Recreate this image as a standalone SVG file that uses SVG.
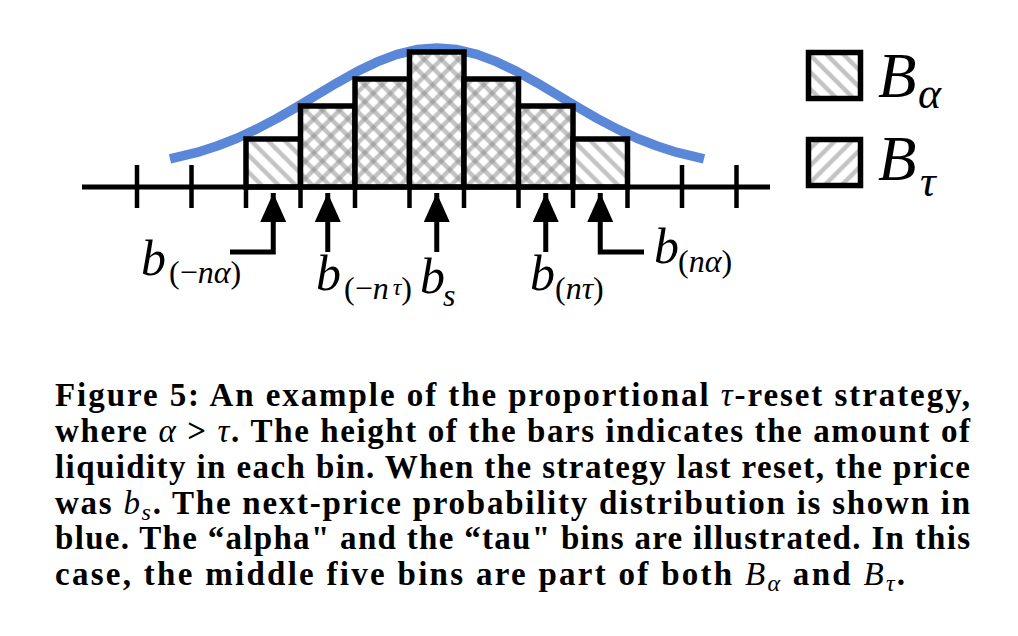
<svg xmlns="http://www.w3.org/2000/svg" width="1018" height="636" viewBox="0 0 1018 636">
  <style>
    .bar { stroke: #000; stroke-width: 5.5; stroke-linejoin: miter; }
    .tick { stroke: #000; stroke-width: 4.5; }
    .conn { fill: none; stroke: #000; stroke-width: 5; stroke-linejoin: miter; marker-end: url(#ah); }
    .lbl { font-family: "Liberation Serif", "Times New Roman", serif; fill: #000; }
    .mi { font-style: italic; }
    .cap { font-family: "Liberation Serif", "Times New Roman", serif; font-weight: bold; font-size: 33px; fill: #000; }
    .cm { font-style: italic; font-weight: normal; }
  </style>
  <defs>
    <pattern id="hatchA" width="12" height="12" patternUnits="userSpaceOnUse" patternTransform="rotate(-45)">
      <rect width="12" height="12" fill="#fff"/>
      <line x1="6" y1="-1" x2="6" y2="13" stroke="#888" stroke-opacity="0.5" stroke-width="4.5"/>
    </pattern>
    <pattern id="hatchT" width="12" height="12" patternUnits="userSpaceOnUse" patternTransform="rotate(45)">
      <rect width="12" height="12" fill="#fff"/>
      <line x1="6" y1="-1" x2="6" y2="13" stroke="#888" stroke-opacity="0.5" stroke-width="4.5"/>
    </pattern>
    <pattern id="hatchX" width="12" height="12" patternUnits="userSpaceOnUse" patternTransform="rotate(45)">
      <rect width="12" height="12" fill="#fff"/>
      <line x1="6" y1="-1" x2="6" y2="13" stroke="#888" stroke-opacity="0.5" stroke-width="4.5"/>
      <line x1="-1" y1="6" x2="13" y2="6" stroke="#888" stroke-opacity="0.5" stroke-width="4.5"/>
    </pattern>
    <marker id="ah" markerUnits="userSpaceOnUse" viewBox="0 0 29 26" refX="29" refY="13" markerWidth="29" markerHeight="26" orient="auto">
      <path d="M0,0 L29,13 L0,26 Z" fill="#000"/>
    </marker>
  </defs>

  <rect width="1018" height="636" fill="#fff"/>

  <g id="curve">
    <polyline fill="none" stroke="#5a87d8" stroke-width="9.5" stroke-linejoin="round"
      points="170,158.9 197,152.4 217,146 237,138.2 257,128.9 277,118.4 297,106.8 317,94.8 337,82.8 357,71.6 377,61.9 397,54.4 417,49.6 437,48 457,49.6 477,54.4 497,61.9 517,71.6 537,82.8 557,94.8 577,106.8 597,118.4 617,128.9 637,138.2 657,146 677,152.4 704,158.9"/>
  </g>

  <g id="bars">
    <g id="bin-neg-n-alpha"><rect class="bar" x="246" y="139" width="54.5" height="48" fill="url(#hatchA)"/></g>
    <g id="bin-neg-n-tau"><rect class="bar" x="300.5" y="106" width="54.5" height="81" fill="url(#hatchX)"/></g>
    <g id="bin-neg-1"><rect class="bar" x="355" y="79" width="54.5" height="108" fill="url(#hatchX)"/></g>
    <g id="bin-s"><rect class="bar" x="409.5" y="52" width="54.5" height="135" fill="url(#hatchX)"/></g>
    <g id="bin-pos-1"><rect class="bar" x="464" y="79" width="54.5" height="108" fill="url(#hatchX)"/></g>
    <g id="bin-n-tau"><rect class="bar" x="518.5" y="106" width="54.5" height="81" fill="url(#hatchX)"/></g>
    <g id="bin-n-alpha"><rect class="bar" x="573" y="139" width="54.5" height="48" fill="url(#hatchA)"/></g>
  </g>

  <g id="axis">
    <line x1="82" y1="187" x2="770" y2="187" stroke="#000" stroke-width="5"/>
    <line class="tick" x1="137" y1="165" x2="137" y2="208"/>
    <line class="tick" x1="191.5" y1="165" x2="191.5" y2="208"/>
    <line class="tick" x1="246" y1="187" x2="246" y2="208"/>
    <line class="tick" x1="300.5" y1="187" x2="300.5" y2="208"/>
    <line class="tick" x1="355" y1="187" x2="355" y2="208"/>
    <line class="tick" x1="409.5" y1="187" x2="409.5" y2="208"/>
    <line class="tick" x1="464" y1="187" x2="464" y2="208"/>
    <line class="tick" x1="518.5" y1="187" x2="518.5" y2="208"/>
    <line class="tick" x1="573" y1="187" x2="573" y2="208"/>
    <line class="tick" x1="627.5" y1="187" x2="627.5" y2="208"/>
    <line class="tick" x1="682" y1="165" x2="682" y2="208"/>
    <line class="tick" x1="736.5" y1="165" x2="736.5" y2="208"/>
  </g>

  <g id="connectors">
    <path class="conn" d="M230,252 H273.25 V193"/>
    <path class="conn" d="M327.75,252 V193"/>
    <path class="conn" d="M436.75,252 V193"/>
    <path class="conn" d="M545.75,252 V193"/>
    <path class="conn" d="M644,252 H600.25 V193"/>
  </g>

  <g id="labels" class="lbl">
    <g id="label-neg-n-alpha">
      <text x="141" y="275" font-size="50" class="mi">b</text>
      <text x="169" y="283" font-size="32">(−<tspan class="mi">nα</tspan>)</text>
    </g>
    <g id="label-neg-n-tau">
      <text x="316" y="290" font-size="50" class="mi">b</text>
      <text x="344" y="299" font-size="32">(−<tspan class="mi">n</tspan><tspan class="mi" font-size="24" dx="4" dy="-4">τ</tspan><tspan dy="4">)</tspan></text>
    </g>
    <g id="label-s">
      <text x="420" y="293" font-size="50" class="mi">b</text>
      <text x="443" y="306" font-size="32" class="mi">s</text>
    </g>
    <g id="label-n-tau">
      <text x="530" y="290" font-size="50" class="mi">b</text>
      <text x="555" y="299" font-size="32">(<tspan class="mi">nτ</tspan>)</text>
    </g>
    <g id="label-n-alpha">
      <text x="654" y="263" font-size="50" class="mi">b</text>
      <text x="678" y="272" font-size="32">(<tspan class="mi">nα</tspan>)</text>
    </g>
  </g>

  <g id="legend">
    <g id="legend-alpha">
      <rect class="bar" x="808.5" y="52.5" width="52" height="46" fill="url(#hatchA)"/>
      <text class="lbl mi" x="878" y="97" font-size="63">B</text>
      <text class="lbl mi" x="918" y="108" font-size="44">α</text>
    </g>
    <g id="legend-tau">
      <rect class="bar" x="808.5" y="139.5" width="52" height="46" fill="url(#hatchT)"/>
      <text class="lbl mi" x="878" y="180" font-size="63">B</text>
      <text class="lbl mi" x="920" y="196" font-size="44">τ</text>
    </g>
  </g>

  <g id="caption" class="cap">
    <text x="55" y="406" textLength="915" lengthAdjust="spacing">Figure 5: An example of the proportional <tspan class="cm">τ</tspan>-reset strategy,</text>
    <text x="55" y="442" textLength="915" lengthAdjust="spacing">where <tspan class="cm">α</tspan> &gt; <tspan class="cm">τ</tspan>. The height of the bars indicates the amount of</text>
    <text x="55" y="478" textLength="915" lengthAdjust="spacing">liquidity in each bin. When the strategy last reset, the price</text>
    <text x="55" y="514" textLength="915" lengthAdjust="spacing">was <tspan class="cm">b</tspan><tspan class="cm" font-size="24" dy="6">s</tspan><tspan dy="-6">. The next-price probability distribution is shown in</tspan></text>
    <text x="55" y="549" textLength="915" lengthAdjust="spacing">blue. The “alpha" and the “tau" bins are illustrated. In this</text>
    <text x="55" y="585" textLength="850" lengthAdjust="spacing">case, the middle five bins are part of both <tspan class="cm">B</tspan><tspan class="cm" font-size="24" dy="6">α</tspan><tspan dy="-6"> and </tspan><tspan class="cm">B</tspan><tspan class="cm" font-size="24" dy="6">τ</tspan><tspan dy="-6">.</tspan></text>
  </g>
</svg>
